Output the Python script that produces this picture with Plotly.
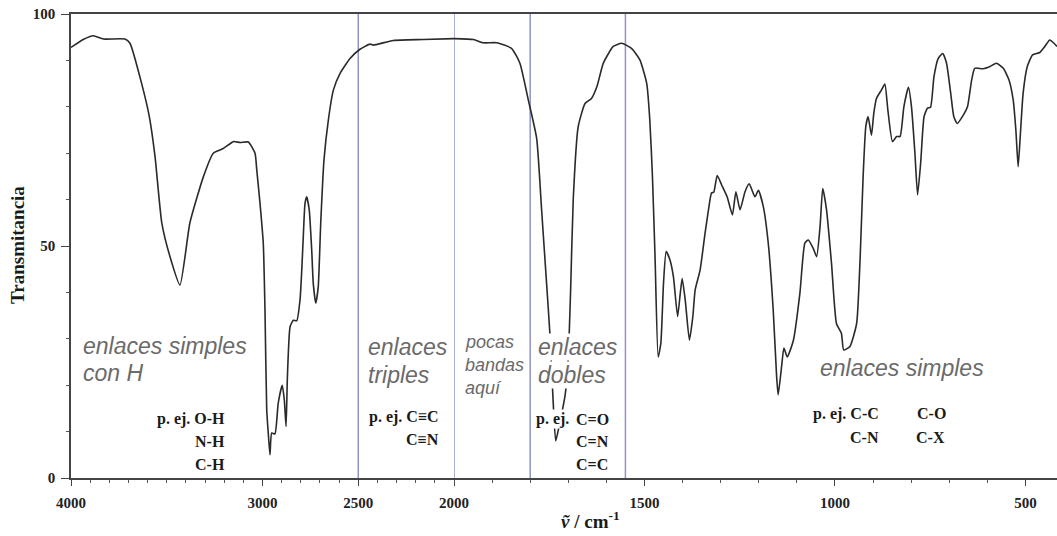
import plotly.graph_objects as go

# ---------------- data ----------------
wavenumber = [4000, 3936, 3884, 3831, 3718, 3692, 3631, 3591, 3561, 3526, 3483, 3431,
              3379, 3309, 3257, 3205, 3152, 3117, 3074, 3039, 3030, 3013, 2996, 2987,
              2978, 2970, 2961, 2952, 2935, 2918, 2897, 2886, 2877, 2870, 2856, 2839,
              2821, 2804, 2795, 2787, 2778, 2769, 2756, 2743, 2735, 2722, 2709, 2696,
              2679, 2656, 2630, 2595, 2543, 2491, 2439, 2422, 2317, 2161, 2000,
              1949, 1923, 1888, 1849, 1827, 1805, 1783, 1770, 1757, 1748, 1740, 1733,
              1722, 1708, 1700, 1694, 1687, 1674, 1656, 1639, 1625, 1608, 1582, 1560,
              1534, 1512, 1494, 1486, 1479, 1472, 1464, 1457, 1450, 1443, 1433, 1424,
              1413, 1406, 1401, 1393, 1382, 1373, 1367, 1354, 1341, 1332, 1324, 1318,
              1309, 1297, 1283, 1269, 1260, 1249, 1236, 1225, 1210, 1201, 1188, 1175,
              1162, 1153, 1149, 1140, 1134, 1125, 1109, 1092, 1079, 1070, 1057, 1048,
              1039, 1032, 1022, 1009, 996, 983, 977, 961, 943, 934, 926, 919, 913, 904,
              898, 891, 878, 869, 861, 849, 838, 829, 819, 807, 799, 790, 783, 775, 766,
              757, 749, 740, 729, 717, 707, 696, 688, 679, 663, 652, 641, 633, 611, 593,
              576, 558, 543, 532, 525, 519, 513, 506, 495, 481, 462, 449, 436, 425, 417]
transmittance = [92.8, 94.5, 95.3, 94.6, 94.6, 93.7, 85.0, 77.9, 69.2, 55.0, 47.7, 41.6,
                 55.0, 64.9, 70.0, 71.0, 72.5, 72.3, 72.4, 70.0, 66.4, 59.2, 50.6, 36.2,
                 14.7, 9.7, 5.0, 9.7, 9.5, 16.1, 20.0, 16.8, 11.1, 21.8, 32.6, 34.0,
                 33.9, 38.4, 44.8, 52.0, 59.2, 60.6, 57.8, 49.1, 42.0, 37.7, 41.2, 54.9,
                 68.5, 77.2, 83.6, 87.2, 90.4, 92.4, 93.5, 93.3, 94.3, 94.5, 94.7,
                 94.5, 93.8, 93.8, 92.6, 89.4, 81.5, 73.2, 57.8, 42.0, 30.8, 17.0, 8.0,
                 12.0, 18.0, 26.0, 40.0, 60.0, 75.7, 80.7, 81.8, 84.3, 89.4, 93.0, 93.7,
                 92.6, 90.1, 85.0, 77.2, 64.9, 47.0, 26.1, 29.0, 42.0, 48.8, 47.0, 43.4,
                 34.8, 39.8, 43.0, 38.4, 29.7, 34.8, 40.5, 44.8, 52.7, 57.8, 61.4, 61.6,
                 65.2, 63.1, 60.6, 56.7, 61.7, 57.8, 61.7, 63.4, 60.6, 62.0, 58.5, 50.6,
                 36.2, 21.8, 17.9, 24.0, 28.0, 26.1, 29.7, 39.8, 50.6, 51.3, 49.5, 47.7,
                 54.2, 62.4, 57.8, 46.3, 33.3, 31.2, 27.6, 28.3, 33.3, 47.0, 64.9, 75.7, 77.9, 73.9,
                 78.6, 81.8, 83.6, 84.9, 79.3, 72.5, 73.6, 73.6, 80.0, 84.2, 80.0, 70.0, 61.0, 67.8, 77.9,
                 79.7, 79.9, 86.5, 90.4, 91.5, 89.4, 82.9, 77.9, 76.4, 78.2, 80.0, 85.8, 88.3, 88.2, 88.7,
                 89.4, 88.3, 85.8, 81.5, 75.0, 67.1, 74.3, 82.9, 88.7, 91.2, 91.7, 93.0, 94.4, 93.7, 93.0]

region_lines = [2500, 2000, 1800, 1550]
x_ticks_high = [4000, 3000, 2500, 2000]
x_labels_high = ["4000", "3000", "2500", "2000"]
x_ticks_low = [1500, 1000, 500]
x_labels_low = ["1500", "1000", "500"]
y_ticks = [0, 50, 100]

# ---------------- figure ----------------
W, H = 1057, 536
ML, MR, MT, MB = 71, 0, 14, 58
split = (454 - 71) / (W - ML - MR)

high_x = [w for w in wavenumber if w >= 2000]
high_y = [t for w, t in zip(wavenumber, transmittance) if w >= 2000]
low_x = [w for w in wavenumber if w <= 2000]
low_y = [t for w, t in zip(wavenumber, transmittance) if w <= 2000]

LINE = "#2a2a2a"
SEP = "#8f94c4"
fig = go.Figure()

# region separators (drawn as unclipped line traces so the one on the axis break shows fully)
for xv in region_lines:
    fig.add_trace(go.Scatter(x=[xv, xv], y=[0, 100], mode="lines",
                             xaxis="x" if xv > 2000 else "x2", yaxis="y",
                             line=dict(color=SEP, width=1.5), cliponaxis=False,
                             showlegend=False, hoverinfo="skip"))

spec_line = dict(color=LINE, width=1.6, shape="spline", smoothing=0.5)
fig.add_trace(go.Scatter(x=high_x, y=high_y, mode="lines", xaxis="x", yaxis="y",
                         line=spec_line, showlegend=False, hoverinfo="skip"))
fig.add_trace(go.Scatter(x=low_x, y=low_y, mode="lines", xaxis="x2", yaxis="y",
                         line=spec_line, showlegend=False, hoverinfo="skip"))

SERIF = "Liberation Serif"
SANS = "Liberation Sans"
tickfont = dict(family=SERIF, size=15, color="#222", weight="bold")
axis_common = dict(showline=True, linecolor="#444", linewidth=1.5, mirror=True,
                   ticks="outside", ticklen=6, tickwidth=1.2, tickcolor="#444",
                   showgrid=False, zeroline=False, tickfont=tickfont,
                   ticklabelstandoff=4, automargin=False,
                   minor=dict(dtick=100, ticks="outside", ticklen=3, tickcolor="#555",
                              tickwidth=1, showgrid=False))

fig.update_layout(
    width=W, height=H, margin=dict(l=ML, r=MR, t=MT, b=MB, autoexpand=False),
    paper_bgcolor="white", plot_bgcolor="white",
    xaxis=dict(domain=[0, split], range=[4000, 2000], tickmode="array",
               tickvals=x_ticks_high, ticktext=x_labels_high, anchor="y", **axis_common),
    xaxis2=dict(domain=[split, 1], range=[2000, 417], tickmode="array",
                tickvals=x_ticks_low, ticktext=x_labels_low, anchor="y", **axis_common),
    yaxis=dict(range=[0, 100], tickmode="array", tickvals=y_ticks, showline=True,
               linecolor="#444", linewidth=1.5, ticks="outside", ticklen=8, tickwidth=1.2,
               tickcolor="#444", showgrid=False, zeroline=False, tickfont=tickfont,
               ticklabelstandoff=3, automargin=False,
               minor=dict(dtick=10, ticks="outside", ticklen=3, tickcolor="#555", tickwidth=1)),
)

GREY = "#6a6a6a"


def label(text, x, y, xref, size, italic_sans=True, anchor="left", bg=None):
    if italic_sans:
        font = dict(family=SANS, size=size, color=GREY, style="italic")
    else:
        font = dict(family=SERIF, size=size, color="#1a1a1a", weight="bold")
    kw = dict(text=text, x=x, y=y, xref=xref, yref="y", xanchor=anchor, yanchor="middle",
              showarrow=False, font=font, borderpad=0)
    if bg:
        kw["bgcolor"] = bg
    fig.add_annotation(**kw)


# single bonds with H
label("enlaces simples", 3943, 28.4, "x", 23)
label("con H", 3943, 22.6, "x", 23)
label("p. ej. O-H", 3191, 12.7, "x", 16, False, "right")
label("N-H", 3191, 7.8, "x", 16, False, "right")
label("C-H", 3191, 3.0, "x", 16, False, "right")
# triple bonds
label("enlaces", 2454, 28.2, "x", 23)
label("triples", 2454, 22.2, "x", 23)
label("p. ej. C≡C", 2073, 13.1, "x", 16, False, "right")
label("C≡N", 2073, 8.2, "x", 16, False, "right")
# few bands
label("pocas", 1974, 29.3, "x2", 18)
label("bandas", 1974, 24.4, "x2", 18)
label("aquí", 1974, 19.4, "x2", 18)
# double bonds
label("enlaces", 1782, 28.2, "x2", 23, bg="white")
label("dobles", 1782, 22.2, "x2", 23, bg="white")
label("p. ej.", 1787, 12.7, "x2", 16, False, bg="white")
label("C=O", 1682, 12.7, "x2", 16, False, bg="white")
label("C=N", 1682, 7.8, "x2", 16, False, bg="white")
label("C=C", 1682, 3.0, "x2", 16, False, bg="white")
# single bonds
label("enlaces simples", 1042, 23.7, "x2", 23)
label("p. ej. C-C", 882, 13.8, "x2", 16, False, "right")
label("C-N", 882, 8.8, "x2", 16, False, "right")
label("C-O", 787, 13.8, "x2", 16, False)
label("C-X", 790, 8.8, "x2", 16, False)

# axis titles
fig.add_annotation(text="Transmitancia", xref="paper", yref="paper",
                   x=(18 - ML) / (W - ML - MR), y=(478 - 245) / (478 - MT),
                   xanchor="center", yanchor="middle", textangle=-90, showarrow=False,
                   font=dict(family=SERIF, size=19, color="#1a1a1a", weight="bold"))
fig.add_annotation(text="<i>ṽ</i> / cm<sup>-1</sup>", xref="paper", yref="paper",
                   x=(590 - ML) / (W - ML - MR), y=(478 - 520) / (478 - MT),
                   xanchor="center", yanchor="middle", showarrow=False,
                   font=dict(family=SERIF, size=19, color="#1a1a1a", weight="bold"))

fig.write_html("out.html")
